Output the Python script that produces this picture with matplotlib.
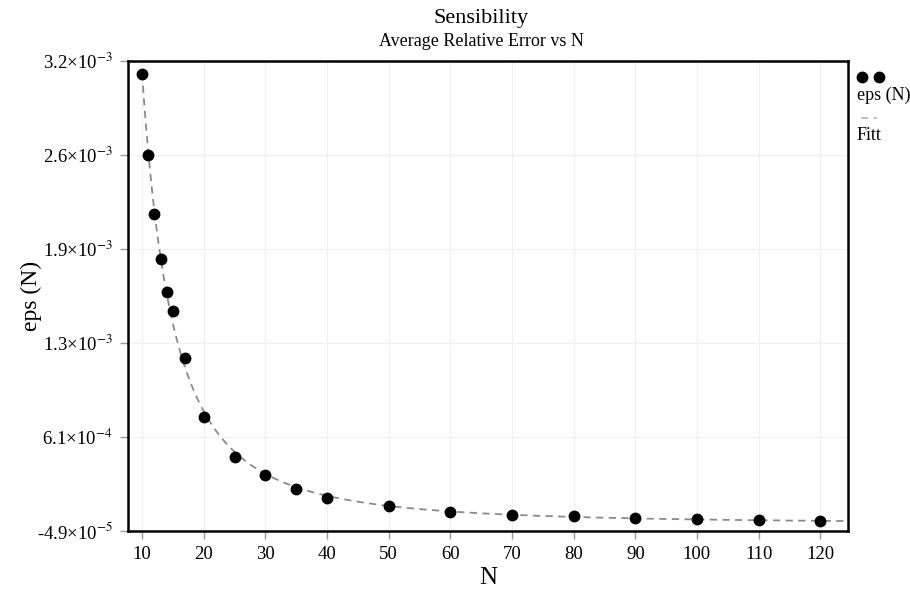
# Sensibility plot: average relative error eps(N) vs N, with fitted curve

import numpy as np
import matplotlib.pyplot as plt
from matplotlib.lines import Line2D

plt.rcParams['font.family'] = ['Liberation Serif', 'DejaVu Serif']
plt.rcParams['mathtext.fontset'] = 'stix'

# Data
N = [10, 11, 12, 13, 14, 15, 17, 20, 25, 30, 35, 40, 50, 60, 70, 80, 90, 100, 110, 120]
eps = [3.149e-3, 2.582e-3, 2.169e-3, 1.854e-3, 1.623e-3, 1.491e-3, 1.162e-3, 7.49e-4,
       4.69e-4, 3.43e-4, 2.45e-4, 1.82e-4, 1.26e-4, 8.4e-5, 6.3e-5, 5.6e-5, 4.2e-5,
       3.5e-5, 2.8e-5, 2.1e-5]

xticks = [10, 20, 30, 40, 50, 60, 70, 80, 90, 100, 110, 120]
ytick_labels = ['-4.9×10$^{-5}$', '6.1×10$^{-4}$', '1.3×10$^{-3}$',
                '1.9×10$^{-3}$', '2.6×10$^{-3}$', '3.2×10$^{-3}$']
ymin, ymax = -4.9e-5, 3.24e-3

# Fit eps = a/N^2 + c by least squares
N = np.array(N, dtype=float)
eps = np.array(eps)
A = np.vstack([1/N**2, np.ones_like(N)]).T
a, c = np.linalg.lstsq(A, eps, rcond=None)[0]
Nfit = np.linspace(10, 124.5, 400)
epsfit = a/Nfit**2 + c

fig = plt.figure(figsize=(9.1, 5.89), dpi=100)
ax = fig.add_axes([0.1407, 0.0985, 0.7912, 0.7979])

ax.plot(Nfit, epsfit, ls=(0, (4, 3)), color='#8a8a8a', lw=1.3, zorder=2)
ax.plot(N, eps, 'o', color='black', ms=7.5, zorder=3)

ax.set_xlim(7.73, 124.5)
ax.set_ylim(ymin, ymax)
ax.set_xticks(xticks)
ax.set_yticks(np.linspace(ymin, ymax, 6))
ax.set_yticklabels(ytick_labels)
ax.tick_params(direction='out', length=6, width=1, color='#999999',
               labelsize=13.5, pad=5)
ax.grid(True, color='#f0f0f0', lw=0.8)
ax.set_axisbelow(True)
for s in ax.spines.values():
    s.set_linewidth(1.8)

ax.set_xlabel('N', fontsize=18, labelpad=3)
ax.set_ylabel('eps (N)', fontsize=17, labelpad=-4)

fig.text(0.5285, 0.968, 'Sensibility', ha='center', va='center', fontsize=16)
fig.text(0.5285, 0.930, 'Average Relative Error vs N', ha='center', va='center', fontsize=13)

# Legend on the right, labels under symbols
fig.add_artist(Line2D([862/910, 879/910], [1-77/589, 1-77/589], ls='none',
                      marker='o', color='black', ms=7.5))
fig.text(857/910, 1-95/589, 'eps (N)', ha='left', va='center', fontsize=13)
fig.add_artist(Line2D([861/910, 877/910], [1-118/589, 1-118/589],
                      ls=(0, (4, 3)), color='#bbbbbb', lw=1.3))
fig.text(857/910, 1-136/589, 'Fitt', ha='left', va='center', fontsize=13)

plt.savefig('out.png', dpi=100)
